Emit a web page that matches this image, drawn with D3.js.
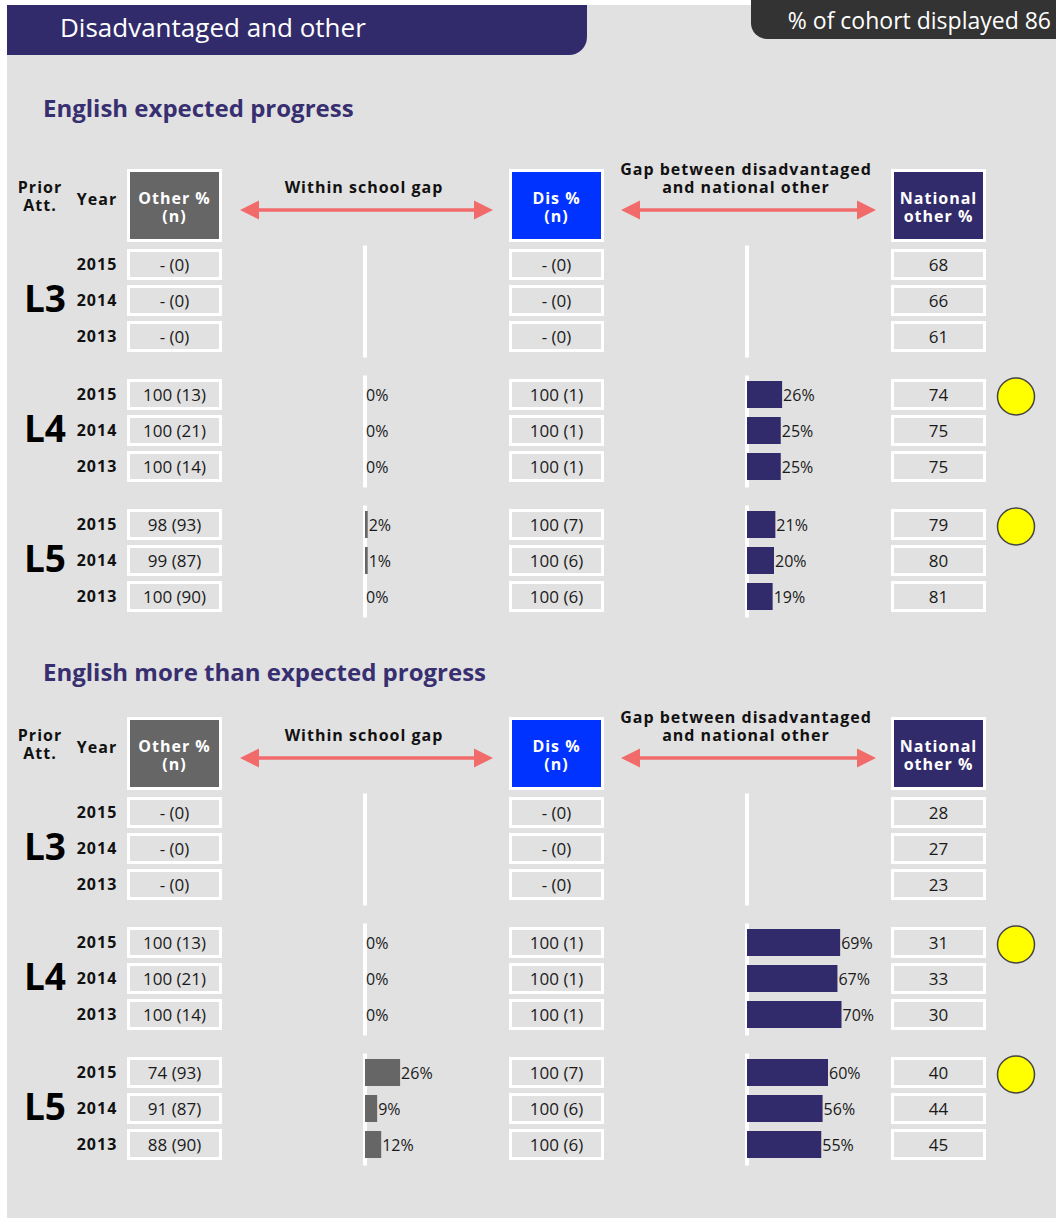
<!DOCTYPE html>
<html>
<head>
    <title>Disadvantaged and other</title>
    <script src="https://d3js.org/d3.v7.min.js"></script>
    <style>
        body { margin: 0; background: #fff; font-family: "Open Sans", Arial, sans-serif; }
        svg { display: block; }
        .hdr { font-weight: bold; font-size: 16px; letter-spacing: 1px; }
        .cell { font-size: 17px; fill: #1a1a1a; }
        .barlab { font-size: 16px; fill: #1a1a1a; }
    </style>
</head>
<body>
    <div id="chart"></div>

    <script>
        // Table data, rows ordered L3 2015..2013, L4 2015..2013, L5 2015..2013
        const levels = ["L3", "L4", "L5"];
        const years = ["2015", "2014", "2013"];
        const sectionTitles = ["English expected progress", "English more than expected progress"];

        const otherPct1 = [null, null, null, 100, 100, 100, 98, 99, 100];
        const otherN1 = [0, 0, 0, 13, 21, 14, 93, 87, 90];
        const disPct1 = [null, null, null, 100, 100, 100, 100, 100, 100];
        const disN1 = [0, 0, 0, 1, 1, 1, 7, 6, 6];
        const withinGap1 = [null, null, null, 0, 0, 0, 2, 1, 0];
        const nationalGap1 = [null, null, null, 26, 25, 25, 21, 20, 19];
        const national1 = [68, 66, 61, 74, 75, 75, 79, 80, 81];
        const flag1 = [0, 0, 0, 1, 0, 0, 1, 0, 0];

        const otherPct2 = [null, null, null, 100, 100, 100, 74, 91, 88];
        const otherN2 = [0, 0, 0, 13, 21, 14, 93, 87, 90];
        const disPct2 = [null, null, null, 100, 100, 100, 100, 100, 100];
        const disN2 = [0, 0, 0, 1, 1, 1, 7, 6, 6];
        const withinGap2 = [null, null, null, 0, 0, 0, 26, 9, 12];
        const nationalGap2 = [null, null, null, 69, 67, 70, 60, 56, 55];
        const national2 = [28, 27, 23, 31, 33, 30, 40, 44, 45];
        const flag2 = [0, 0, 0, 1, 0, 0, 1, 0, 0];

        const cohortShown = 86;

        const sections = [
            { title: sectionTitles[0], other: otherPct1, otherN: otherN1, dis: disPct1, disN: disN1,
              within: withinGap1, gap: nationalGap1, national: national1, flag: flag1 },
            { title: sectionTitles[1], other: otherPct2, otherN: otherN2, dis: disPct2, disN: disN2,
              within: withinGap2, gap: nationalGap2, national: national2, flag: flag2 }
        ];

        const width = 1056, height = 1218;
        const purple = "#322b6b", arrowCol = "#f26b6b";

        const svg = d3.select("#chart").append("svg")
            .attr("width", width)
            .attr("height", height);

        // panel background
        svg.append("rect").attr("x", 7).attr("y", 5).attr("width", width - 7).attr("height", height - 5)
            .attr("fill", "#e1e1e1");

        // title bar (rounded bottom right)
        svg.append("path")
            .attr("d", "M7,5 H587 V37 A18,18 0 0 1 569,55 H7 Z")
            .attr("fill", purple);
        svg.append("text").attr("x", 60).attr("y", 37)
            .attr("fill", "#fff").attr("font-size", 26)
            .text("Disadvantaged and other");

        // cohort tab (rounded bottom left)
        svg.append("path")
            .attr("d", "M751,0 H1056 V39 H767 A16,16 0 0 1 751,23 Z")
            .attr("fill", "#333");
        svg.append("text").attr("x", 1051).attr("y", 29)
            .attr("fill", "#fff").attr("font-size", 23).attr("text-anchor", "end")
            .text("% of cohort displayed " + cohortShown);

        // column positions
        const colOther = 174.5, colDis = 556.5, colNat = 938.5, boxW = 92;
        const within0 = 365, gap0 = 747;
        const barScale = d3.scaleLinear().domain([0, 100]).range([0, 135]);
        const levelY = d3.scalePoint().domain(levels).range([0, 260]);
        const yearY = d3.scalePoint().domain(years).range([0, 72]);

        function arrow(g, x1, x2, y) {
            g.append("line").attr("x1", x1 + 15).attr("x2", x2 - 15).attr("y1", y).attr("y2", y)
                .attr("stroke", arrowCol).attr("stroke-width", 3.5);
            g.append("path").attr("d", `M${x1},${y} L${x1 + 19},${y - 9.5} L${x1 + 19},${y + 9.5} Z`).attr("fill", arrowCol);
            g.append("path").attr("d", `M${x2},${y} L${x2 - 19},${y - 9.5} L${x2 - 19},${y + 9.5} Z`).attr("fill", arrowCol);
        }

        function headerBox(g, cx, fill, lines) {
            g.append("rect").attr("x", cx - boxW / 2).attr("y", 170.5).attr("width", boxW).attr("height", 70)
                .attr("fill", fill).attr("stroke", "#fff").attr("stroke-width", 3);
            lines.forEach((t, i) => {
                g.append("text").attr("class", "hdr").attr("x", cx).attr("y", 204 + i * 18)
                    .attr("text-anchor", "middle").attr("fill", "#fff").text(t);
            });
        }

        sections.forEach((s, si) => {
            const g = svg.append("g").attr("transform", `translate(0,${si * 548})`);
            const titleY = si === 0 ? 117 : 133;

            g.append("text").attr("x", 43).attr("y", titleY)
                .attr("font-size", 24).attr("font-weight", "bold").attr("fill", "#372f70")
                .text(s.title);

            // header labels
            [["Prior", 40, 193], ["Att.", 40, 211], ["Year", 97, 205]].forEach(([t, x, y]) => {
                g.append("text").attr("class", "hdr").attr("x", x).attr("y", y).attr("text-anchor", "middle")
                    .attr("font-size", 16.5).attr("letter-spacing", 1.6).attr("fill", "#111").text(t);
            });

            headerBox(g, colOther, "#666", ["Other %", "(n)"]);
            headerBox(g, colDis, "#0033ff", ["Dis %", "(n)"]);
            headerBox(g, colNat, purple, ["National", "other %"]);

            g.append("text").attr("class", "hdr").attr("x", 364).attr("y", 193).attr("text-anchor", "middle")
                .attr("fill", "#111").text("Within school gap");
            g.append("text").attr("class", "hdr").attr("x", 746).attr("y", 175).attr("text-anchor", "middle")
                .attr("fill", "#111").text("Gap between disadvantaged");
            g.append("text").attr("class", "hdr").attr("x", 746).attr("y", 193).attr("text-anchor", "middle")
                .attr("fill", "#111").text("and national other");
            arrow(g, 240, 493, 210);
            arrow(g, 621, 876, 210);

            const top = 264.5;
            levels.forEach((lv, li) => {
                const y0 = top + levelY(lv);
                const yMid = y0 + yearY(years[1]);
                const yEnd = y0 + yearY(years[2]);

                g.append("text").attr("x", 45).attr("y", yMid + 11).attr("text-anchor", "middle")
                    .attr("font-size", 37).attr("font-weight", "bold").attr("fill", "#000")
                    .text(lv);

                // gap axis lines
                [within0, gap0].forEach(x0 => {
                    g.append("rect").attr("x", x0 - 2).attr("y", y0 - 19).attr("width", 4)
                        .attr("height", yEnd - y0 + 40).attr("fill", "#fff");
                });

                years.forEach((yr, yi) => {
                    const i = li * 3 + yi;
                    const cy = y0 + yearY(yr);

                    g.append("text").attr("class", "hdr").attr("x", 97).attr("y", cy + 5)
                        .attr("font-size", 16.5).attr("letter-spacing", 1.1)
                        .attr("text-anchor", "middle").attr("fill", "#111").text(yr);

                    const cells = [
                        [colOther, s.other[i] == null ? "- (0)" : `${s.other[i]} (${s.otherN[i]})`],
                        [colDis, s.dis[i] == null ? "- (0)" : `${s.dis[i]} (${s.disN[i]})`],
                        [colNat, String(s.national[i])]
                    ];
                    cells.forEach(([cx, txt]) => {
                        g.append("rect").attr("x", cx - boxW / 2).attr("y", cy - 14).attr("width", boxW)
                            .attr("height", 28).attr("fill", "none").attr("stroke", "#fff").attr("stroke-width", 3);
                        g.append("text").attr("class", "cell").attr("x", cx).attr("y", cy + 6)
                            .attr("text-anchor", "middle").text(txt);
                    });

                    const bars = [[within0, s.within[i], "#666"], [gap0, s.gap[i], purple]];
                    bars.forEach(([x0, v, col]) => {
                        if (v == null) return;
                        const w = v > 0 ? Math.max(barScale(v), 2.7) : 0;
                        if (w > 0) {
                            g.append("rect").attr("x", x0).attr("y", cy - 13.5).attr("width", w)
                                .attr("height", 27).attr("fill", col);
                        }
                        g.append("text").attr("class", "barlab").attr("x", x0 + w + 1).attr("y", cy + 6)
                            .text(v + "%");
                    });

                    if (s.flag[i]) {
                        g.append("circle").attr("cx", 1016).attr("cy", cy + 2).attr("r", 18.5)
                            .attr("fill", "#ffff00").attr("stroke", "#444").attr("stroke-width", 1.5);
                    }
                });
            });
        });
    </script>
</body>
</html>
